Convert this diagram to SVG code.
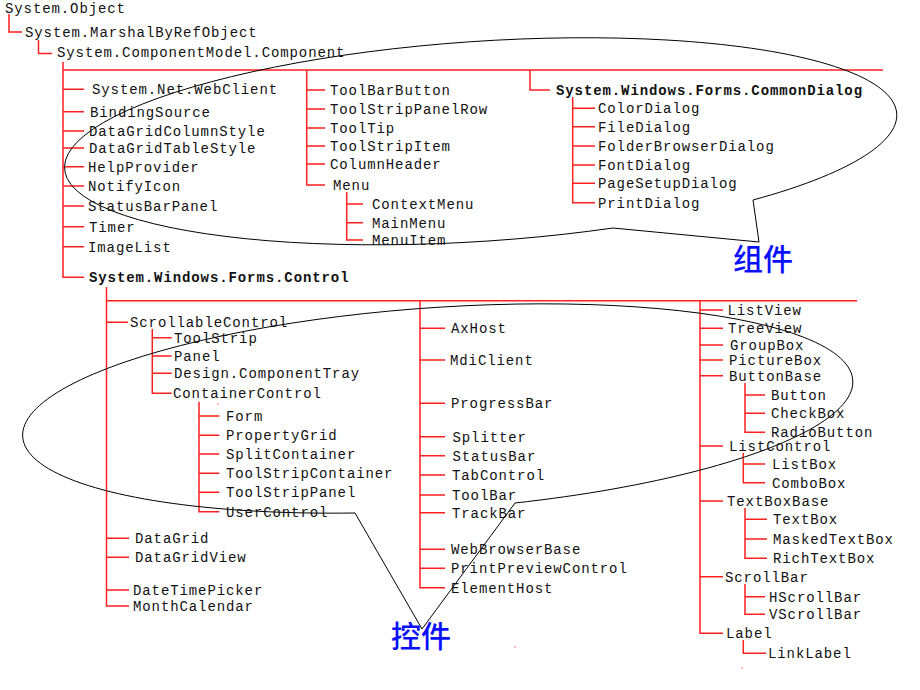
<svg xmlns="http://www.w3.org/2000/svg" width="920" height="690" viewBox="0 0 920 690">
<style>
.t{font-family:"Liberation Mono","DejaVu Sans Mono",monospace;font-size:14px;letter-spacing:0.9px;fill:#111}
.b{font-weight:bold}
.r{fill:none;stroke:#ff2020;stroke-width:1.5}
.c{fill:none;stroke:#000;stroke-width:1}
.cjk{font-family:"Noto Sans CJK SC","Noto Sans",sans-serif;font-size:30px;font-weight:500;fill:#0a10ff}
.dot{fill:#ff6060}
</style>
<rect width="920" height="690" fill="#fff"/>
<g id="connectors">
<path class="r" d="M9 14V32H22M38.5 40V53.5H52"/>
<path class="r" d="M63 62V277.3H84M63 70H883M63 89.3H84M63 111.7H84M63 131H84M63 148H84M63 166.7H84M63 186H84M63 206H84M63 226.7H84M63 246.7H84"/>
<path class="r" d="M306.7 70V185H325M306.7 90H325M306.7 109H325M306.7 128H325M306.7 146H325M306.7 164H325"/>
<path class="r" d="M346.7 192V240H363M346.7 204H363M346.7 222.7H363"/>
<path class="r" d="M530 70V90H550M572.7 97V202.7H595M572.7 108.3H595M572.7 126.7H595M572.7 146H595M572.7 165H595M572.7 183.3H595"/>
<path class="r" d="M106.5 287V606H129M106.5 300.7H857M106.5 322.3H128M106.5 538.3H129M106.5 557.3H129M106.5 590H129"/>
<path class="r" d="M152.3 329V393.3H171.7M152.3 337.7H171.7M152.3 356H171.7M152.3 373.3H171.7"/>
<path class="r" d="M199 401.7V511.7H219.3M199 416H219.3M199 435.3H219.3M199 454H219.3M199 473.3H219.3M199 492.3H219.3"/>
<path class="r" d="M420 300.7V587.7H445M420 328.3H445M420 360H445M420 403.3H445M420 436.7H445M420 455.7H445M420 475H445M420 495H445M420 512.7H445M420 549.3H445M420 568.3H445"/>
<path class="r" d="M700 300.7V633.3H723M700 310H723M700 328.3H723M700 345H723M700 360H723M700 375.7H723M700 446H723M700 501H723M700 576.7H723"/>
<path class="r" d="M745 383V432.3H765M745 395H765M745 413.3H765M743.3 453V482.7H765M743.3 464H765"/>
<path class="r" d="M745 508V558.3H767M745 519.3H767M745 539H767M745 584V614.3H765M745 596.7H765M743.3 640V653.3H766"/>
</g>
<g id="callout-components">
<path class="c" d="M753 200L759 242L613 228A417 100 -3.8 1 1 753 200"/>
<text class="cjk" x="733" y="270">组件</text>
</g>
<g id="callout-controls">
<path class="c" d="M355 513L422 629L515 503A416 101 -3.9 1 0 355 513"/>
<text class="cjk" x="391" y="647">控件</text>
</g>
<g id="dots">
<circle class="dot" cx="218" cy="404" r="0.8"/>
<circle class="dot" cx="515" cy="647" r="0.8"/>
<circle class="dot" cx="742" cy="668" r="0.8"/>
</g>
<g id="n-object"><text class="t" x="5" y="13">System.Object</text></g>
<g id="n-marshal"><text class="t" x="25" y="36.5">System.MarshalByRefObject</text></g>
<g id="n-component"><text class="t" x="57" y="57">System.ComponentModel.Component</text></g>
<g id="n-webclient"><text class="t" x="92" y="94.3">System.Net.WebClient</text></g>
<g id="n-bindingsource"><text class="t" x="90" y="116.7">BindingSource</text></g>
<g id="n-dgcolstyle"><text class="t" x="89" y="136">DataGridColumnStyle</text></g>
<g id="n-dgtablestyle"><text class="t" x="89" y="153">DataGridTableStyle</text></g>
<g id="n-helpprovider"><text class="t" x="88" y="171.7">HelpProvider</text></g>
<g id="n-notifyicon"><text class="t" x="88" y="191">NotifyIcon</text></g>
<g id="n-statusbarpanel"><text class="t" x="88" y="211">StatusBarPanel</text></g>
<g id="n-timer"><text class="t" x="89" y="231.7">Timer</text></g>
<g id="n-imagelist"><text class="t" x="88" y="251.7">ImageList</text></g>
<g id="n-control"><text class="t b" x="89" y="282.3">System.Windows.Forms.Control</text></g>
<g id="n-toolbarbutton"><text class="t" x="330" y="95">ToolBarButton</text></g>
<g id="n-toolstrippanelrow"><text class="t" x="330" y="114">ToolStripPanelRow</text></g>
<g id="n-tooltip"><text class="t" x="330" y="133">ToolTip</text></g>
<g id="n-toolstripitem"><text class="t" x="330" y="151">ToolStripItem</text></g>
<g id="n-columnheader"><text class="t" x="330" y="169">ColumnHeader</text></g>
<g id="n-menu"><text class="t" x="333" y="190">Menu</text></g>
<g id="n-contextmenu"><text class="t" x="372" y="209">ContextMenu</text></g>
<g id="n-mainmenu"><text class="t" x="372" y="227.7">MainMenu</text></g>
<g id="n-menuitem"><text class="t" x="372" y="245">MenuItem</text></g>
<g id="n-commondialog"><text class="t b" x="556" y="95">System.Windows.Forms.CommonDialog</text></g>
<g id="n-colordialog"><text class="t" x="598" y="113.3">ColorDialog</text></g>
<g id="n-filedialog"><text class="t" x="598" y="131.7">FileDialog</text></g>
<g id="n-folderbrowserdialog"><text class="t" x="598" y="151">FolderBrowserDialog</text></g>
<g id="n-fontdialog"><text class="t" x="598" y="170">FontDialog</text></g>
<g id="n-pagesetupdialog"><text class="t" x="598" y="188.3">PageSetupDialog</text></g>
<g id="n-printdialog"><text class="t" x="598" y="207.7">PrintDialog</text></g>
<g id="n-scrollablecontrol"><text class="t" x="130" y="327.3">ScrollableControl</text></g>
<g id="n-toolstrip"><text class="t" x="174" y="342.7">ToolStrip</text></g>
<g id="n-panel"><text class="t" x="174" y="361">Panel</text></g>
<g id="n-componenttray"><text class="t" x="174" y="378.3">Design.ComponentTray</text></g>
<g id="n-containercontrol"><text class="t" x="173" y="398.3">ContainerControl</text></g>
<g id="n-form"><text class="t" x="226" y="421">Form</text></g>
<g id="n-propertygrid"><text class="t" x="226" y="440.3">PropertyGrid</text></g>
<g id="n-splitcontainer"><text class="t" x="226" y="459">SplitContainer</text></g>
<g id="n-toolstripcontainer"><text class="t" x="226" y="478.3">ToolStripContainer</text></g>
<g id="n-toolstrippanel"><text class="t" x="226" y="497.3">ToolStripPanel</text></g>
<g id="n-usercontrol"><text class="t" x="226" y="516.7">UserControl</text></g>
<g id="n-datagrid"><text class="t" x="135" y="543.3">DataGrid</text></g>
<g id="n-datagridview"><text class="t" x="135" y="562.3">DataGridView</text></g>
<g id="n-datetimepicker"><text class="t" x="133" y="595">DateTimePicker</text></g>
<g id="n-monthcalendar"><text class="t" x="133" y="611">MonthCalendar</text></g>
<g id="n-axhost"><text class="t" x="451" y="333.3">AxHost</text></g>
<g id="n-mdiclient"><text class="t" x="450" y="365">MdiClient</text></g>
<g id="n-progressbar"><text class="t" x="451" y="408.3">ProgressBar</text></g>
<g id="n-splitter"><text class="t" x="452.5" y="441.7">Splitter</text></g>
<g id="n-statusbar"><text class="t" x="452.5" y="460.7">StatusBar</text></g>
<g id="n-tabcontrol"><text class="t" x="452" y="480">TabControl</text></g>
<g id="n-toolbar"><text class="t" x="452" y="500">ToolBar</text></g>
<g id="n-trackbar"><text class="t" x="452" y="517.7">TrackBar</text></g>
<g id="n-webbrowserbase"><text class="t" x="451" y="554.3">WebBrowserBase</text></g>
<g id="n-printpreviewcontrol"><text class="t" x="451" y="573.3">PrintPreviewControl</text></g>
<g id="n-elementhost"><text class="t" x="451" y="592.7">ElementHost</text></g>
<g id="n-listview"><text class="t" x="727.5" y="315">ListView</text></g>
<g id="n-treeview"><text class="t" x="728" y="333.3">TreeView</text></g>
<g id="n-groupbox"><text class="t" x="730" y="350">GroupBox</text></g>
<g id="n-picturebox"><text class="t" x="729" y="365">PictureBox</text></g>
<g id="n-buttonbase"><text class="t" x="729" y="380.7">ButtonBase</text></g>
<g id="n-button"><text class="t" x="771" y="400">Button</text></g>
<g id="n-checkbox"><text class="t" x="771" y="418.3">CheckBox</text></g>
<g id="n-radiobutton"><text class="t" x="771" y="437.3">RadioButton</text></g>
<g id="n-listcontrol"><text class="t" x="729" y="451">ListControl</text></g>
<g id="n-listbox"><text class="t" x="772" y="469">ListBox</text></g>
<g id="n-combobox"><text class="t" x="772" y="487.7">ComboBox</text></g>
<g id="n-textboxbase"><text class="t" x="727" y="506">TextBoxBase</text></g>
<g id="n-textbox"><text class="t" x="773" y="524.3">TextBox</text></g>
<g id="n-maskedtextbox"><text class="t" x="773" y="544">MaskedTextBox</text></g>
<g id="n-richtextbox"><text class="t" x="773" y="563.3">RichTextBox</text></g>
<g id="n-scrollbar"><text class="t" x="725" y="581.7">ScrollBar</text></g>
<g id="n-hscrollbar"><text class="t" x="769" y="601.7">HScrollBar</text></g>
<g id="n-vscrollbar"><text class="t" x="769" y="619.3">VScrollBar</text></g>
<g id="n-label"><text class="t" x="726" y="638.3">Label</text></g>
<g id="n-linklabel"><text class="t" x="768" y="658.3">LinkLabel</text></g>
</svg>
